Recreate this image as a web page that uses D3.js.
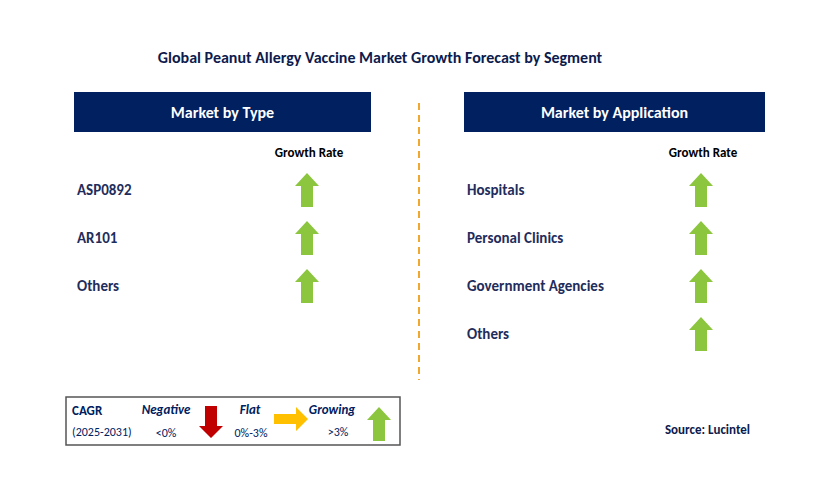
<!DOCTYPE html>
<html><head><meta charset="utf-8">
<script src="https://cdn.jsdelivr.net/npm/d3@7"></script>
<style>body{margin:0;background:#fff}</style>
</head><body>
<svg id="sketch"></svg>
<script>
var typeLabels = ['ASP0892', 'AR101', 'Others'];
var typeTrend = ['up', 'up', 'up'];
var appLabels = ['Hospitals', 'Personal Clinics', 'Government Agencies', 'Others'];
var appTrend = ['up', 'up', 'up', 'up'];

var navy = '#002060', font = 'Calibri, Carlito, "Liberation Sans", Arial, sans-serif';
var svg = d3.select('#sketch').attr('width', 829).attr('height', 493);

svg.append('text').attr('x', 380).attr('y', 63).attr('text-anchor', 'middle')
    .text('Global Peanut Allergy Vaccine Market Growth Forecast by Segment')
    .style('font-family', font).style('font-size', '16px').style('font-weight', 'bold').style('fill', '#0d1b4d');

function upArrow(g, cx, cy, col) {
    g.append('path')
        .attr('d', 'M' + cx + ',' + (cy - 17) + ' l12,13 h-6 v21 h-12 v-21 h-6 z')
        .attr('fill', col || '#8cc63f');
}

function panel(x0, x1, title, labels, trend) {
    var g = svg.append('g');
    g.append('rect').attr('x', x0).attr('y', 92).attr('width', x1 - x0).attr('height', 40).attr('fill', navy);
    g.append('text').attr('x', (x0 + x1) / 2).attr('y', 118).attr('text-anchor', 'middle')
        .text(title).style('font-family', font).style('font-size', '16px').style('font-weight', 'bold').style('fill', '#fff');
    var ax = x1 - 62;
    g.append('text').attr('x', ax).attr('y', 157).attr('text-anchor', 'middle')
        .text('Growth Rate').style('font-family', font).style('font-size', '13px').style('font-weight', 'bold').style('fill', '#000');
    var y = d3.scaleBand().domain(labels).range([166, 166 + 48 * labels.length]);
    labels.forEach(function (d, i) {
        var cy = y(d) + y.bandwidth() / 2;
        g.append('text').attr('x', x0 + 3).attr('y', cy + 5).text(d)
            .style('font-family', font).style('font-size', '15px').style('font-weight', 'bold').style('fill', '#1f2d5c');
        if (trend[i] === 'up') upArrow(g, ax - 2, cy, '#8cc63f');
    });
}
panel(74, 371, 'Market by Type', typeLabels, typeTrend);
panel(464, 765, 'Market by Application', appLabels, appTrend);

svg.append('line').attr('x1', 419).attr('x2', 419).attr('y1', 103).attr('y2', 380)
    .attr('stroke', '#f0a830').attr('stroke-width', 2).attr('stroke-dasharray', '7,5');

// legend
var lg = svg.append('g');
lg.append('rect').attr('x', 66).attr('y', 397).attr('width', 334).attr('height', 48)
    .attr('fill', '#fff').attr('stroke', '#555').attr('stroke-width', 1.5);
function lt(x, y, t, opts) {
    var e = lg.append('text').attr('x', x).attr('y', y).text(t).attr('text-anchor', opts.anchor || 'start')
        .style('font-family', font).style('font-size', opts.size || '12px').style('fill', opts.fill || navy);
    if (opts.bold) e.style('font-weight', 'bold');
    if (opts.italic) e.style('font-style', 'italic');
}
lt(72, 415, 'CAGR', {bold: true, size: '13px'});
lt(72, 436, '(2025-2031)', {size: '12px'});
lt(166, 414, 'Negative', {bold: true, italic: true, anchor: 'middle', size: '13px'});
lt(166, 437, '<0%', {anchor: 'middle'});
lt(250, 414, 'Flat', {bold: true, italic: true, anchor: 'middle', size: '13px'});
lt(251, 437, '0%-3%', {anchor: 'middle'});
lt(332, 414, 'Growing', {bold: true, italic: true, anchor: 'middle', size: '13px'});
lt(338, 436, '>3%', {anchor: 'middle'});
lg.append('path').attr('d', 'M205,406 h12 v20 h6 l-12,12 l-12,-12 h6 z').attr('fill', '#c00000');
lg.append('path').attr('d', 'M274,414 h22 v-7 l12,12 l-12,12 v-7 h-22 z').attr('fill', '#ffc000');
upArrow(lg, 379, 424, '#8cc63f');

svg.append('text').attr('x', 750).attr('y', 434).attr('text-anchor', 'end').text('Source: Lucintel')
    .style('font-family', font).style('font-size', '13px').style('font-weight', 'bold').style('fill', '#0d1b4d');
</script>
</body></html>
